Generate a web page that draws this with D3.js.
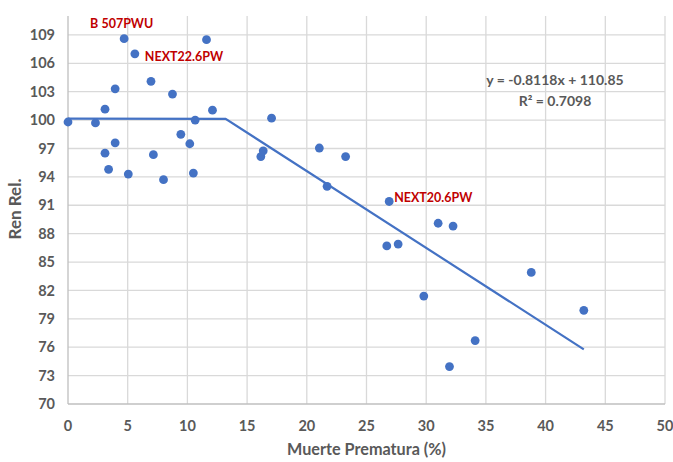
<!DOCTYPE html>
<html lang="es">
<head>
<meta charset="UTF-8">
<script src="https://d3js.org/d3.v7.min.js"></script>
<style>
  body { margin: 0; background: #fff; }
  text { font-family: Lato, "Open Sans", sans-serif; }
</style>
</head>
<body>
<div id="chart"></div>
<script>
// Data
const muerte = [0, 2.3, 3.1, 3.4, 3.1, 3.95, 3.95, 5.05, 4.7, 5.6, 6.95, 7.15, 8.0, 8.75,
  9.45, 10.2, 10.5, 10.65, 11.6, 12.1, 16.15, 16.35, 17.05, 21.05, 21.7, 23.25,
  26.9, 26.7, 27.65, 29.8, 31.0, 32.25, 31.95, 34.1, 38.8, 43.2];
const rendimiento = [99.8, 99.7, 96.5, 94.8, 101.15, 103.3, 97.6, 94.3, 108.6, 107.0, 104.1, 96.35, 93.7, 102.75,
  98.5, 97.5, 94.4, 100.0, 108.5, 101.05, 96.15, 96.75, 100.2, 97.05, 93.0, 96.15,
  91.4, 86.7, 86.9, 81.4, 89.1, 88.8, 73.95, 76.7, 83.9, 79.9];

// trend line corners
const trendX = [0, 13.2, 43.2];
const trendY = [100.15, 100.13, 75.78];

const xTicks = [0, 5, 10, 15, 20, 25, 30, 35, 40, 45, 50];
const yTicks = [70, 73, 76, 79, 82, 85, 88, 91, 94, 97, 100, 103, 106, 109];

const labels = [
  { name: "B 507PWU", x: 4.7, y: 108.6 },
  { name: "NEXT22.6PW", x: 5.6, y: 107.0 },
  { name: "NEXT20.6PW", x: 26.9, y: 91.4 }
];
const labelOffsets = [[-34, -15], [10, 3], [5, -4]];

const width = 673, height = 462;
const margin = { top: 16, right: 8, bottom: 58, left: 68 };

const svg = d3.select("#chart").append("svg")
  .attr("width", width)
  .attr("height", height);

const x = d3.scaleLinear().domain([0, 50]).range([margin.left, width - margin.right]);
const y = d3.scaleLinear().domain([70, 111]).range([height - margin.bottom, margin.top]);

const gray = "#595959";

// gridlines
svg.append("g")
  .selectAll("line")
  .data(yTicks.slice(1))
  .join("line")
  .attr("x1", x(0)).attr("x2", x(50))
  .attr("y1", d => y(d)).attr("y2", d => y(d))
  .attr("stroke", "#d9d9d9").attr("stroke-width", 1.3);

svg.append("g")
  .selectAll("line")
  .data(xTicks.slice(1))
  .join("line")
  .attr("x1", d => x(d)).attr("x2", d => x(d))
  .attr("y1", y(70)).attr("y2", y(111))
  .attr("stroke", "#d9d9d9").attr("stroke-width", 1.3);

// axis lines
svg.append("line")
  .attr("x1", x(0)).attr("x2", x(50))
  .attr("y1", y(70)).attr("y2", y(70))
  .attr("stroke", "#bfbfbf").attr("stroke-width", 1.3);
svg.append("line")
  .attr("x1", x(0)).attr("x2", x(0))
  .attr("y1", y(70)).attr("y2", y(111))
  .attr("stroke", "#bfbfbf").attr("stroke-width", 1.3);

// tick labels
svg.append("g")
  .selectAll("text")
  .data(yTicks)
  .join("text")
  .attr("x", x(0) - 13)
  .attr("y", d => y(d))
  .attr("dy", "0.35em")
  .attr("text-anchor", "end")
  .attr("font-size", 14.5)
  .attr("font-weight", "bold")
  .attr("fill", gray)
  .text(d => d);

svg.append("g")
  .selectAll("text")
  .data(xTicks)
  .join("text")
  .attr("x", d => x(d))
  .attr("y", y(70) + 27)
  .attr("text-anchor", "middle")
  .attr("font-size", 14.5)
  .attr("font-weight", "bold")
  .attr("fill", gray)
  .text(d => d);

// axis titles
svg.append("text")
  .attr("x", (x(0) + x(50)) / 2)
  .attr("y", 455)
  .attr("text-anchor", "middle")
  .attr("font-size", 16.2)
  .attr("font-weight", "bold")
  .attr("fill", gray)
  .text("Muerte Prematura (%)");

svg.append("text")
  .attr("transform", `translate(21,209) rotate(-90)`)
  .attr("text-anchor", "middle")
  .attr("font-size", 17)
  .attr("font-weight", "bold")
  .attr("fill", gray)
  .text("Ren Rel.");

// trend line
const line = d3.line().x(d => x(d[0])).y(d => y(d[1]));
svg.append("path")
  .datum(d3.zip(trendX, trendY))
  .attr("d", line)
  .attr("fill", "none")
  .attr("stroke", "#4472c4")
  .attr("stroke-width", 2.2);

// points
svg.append("g")
  .selectAll("circle")
  .data(d3.zip(muerte, rendimiento))
  .join("circle")
  .attr("cx", d => x(d[0]))
  .attr("cy", d => y(d[1]))
  .attr("r", 4.4)
  .attr("fill", "#4472c4");

// point labels
svg.append("g")
  .selectAll("text")
  .data(labels)
  .join("text")
  .attr("x", (d, i) => x(d.x) + labelOffsets[i][0])
  .attr("y", (d, i) => y(d.y) + labelOffsets[i][1])
  .attr("dy", "0.35em")
  .attr("font-size", 12.5)
  .attr("font-weight", "bold")
  .attr("fill", "#c00000")
  .text(d => d.name);

// equation
svg.append("text")
  .attr("x", 555)
  .attr("y", 85)
  .attr("text-anchor", "middle")
  .attr("font-size", 14)
  .attr("font-weight", "bold")
  .attr("fill", gray)
  .text("y = -0.8118x + 110.85");
svg.append("text")
  .attr("x", 555)
  .attr("y", 106)
  .attr("text-anchor", "middle")
  .attr("font-size", 14)
  .attr("font-weight", "bold")
  .attr("fill", gray)
  .text("R² = 0.7098");
</script>
</body>
</html>
